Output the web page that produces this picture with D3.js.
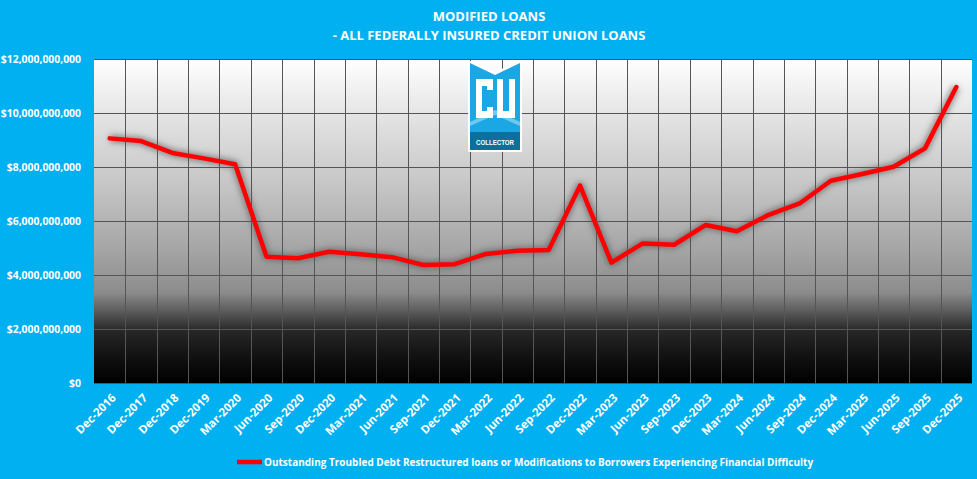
<!DOCTYPE html>
<html>
<head>
<meta charset="utf-8" />
<title>Modified Loans</title>
<script src="https://cdnjs.cloudflare.com/ajax/libs/d3/7.8.5/d3.min.js"></script>
<style>
  html, body { margin: 0; padding: 0; background: #00b0f0; }
  svg { display: block; }
  text { font-family: "Open Sans", sans-serif; font-weight: 700; fill: #fff; }
</style>
</head>
<body>
<svg id="chart" width="977" height="479"></svg>
<script>
// quarters shown on the category axis
var categories = ["Dec-2016","Dec-2017","Dec-2018","Dec-2019","Mar-2020","Jun-2020","Sep-2020","Dec-2020",
  "Mar-2021","Jun-2021","Sep-2021","Dec-2021","Mar-2022","Jun-2022","Sep-2022","Dec-2022",
  "Mar-2023","Jun-2023","Sep-2023","Dec-2023","Mar-2024","Jun-2024","Sep-2024","Dec-2024",
  "Mar-2025","Jun-2025","Sep-2025","Dec-2025"];

// outstanding TDR loans / modifications, dollars
var modifiedLoans = [9.06e9, 8.96e9, 8.52e9, 8.32e9, 8.10e9, 4.68e9, 4.62e9, 4.86e9,
  4.77e9, 4.66e9, 4.37e9, 4.40e9, 4.78e9, 4.90e9, 4.93e9, 7.31e9,
  4.46e9, 5.17e9, 5.12e9, 5.85e9, 5.62e9, 6.22e9, 6.65e9, 7.49e9,
  7.74e9, 8.01e9, 8.69e9, 10.96e9];

var yTicks = [0, 2e9, 4e9, 6e9, 8e9, 10e9, 12e9];

var titleLines = ["MODIFIED LOANS", "- ALL FEDERALLY INSURED CREDIT UNION LOANS"];
var legendLabel = "Outstanding Troubled Debt Restructured loans or Modifications to Borrowers Experiencing Financial Difficulty";

var svg = d3.select("#chart");
var W = 977, H = 479;
var plot = {left: 94, right: 972, top: 59, bottom: 383};

svg.append("rect").attr("width", W).attr("height", H).attr("fill", "#00b0f0");

var defs = svg.append("defs");
var grad = defs.append("linearGradient").attr("id", "bg").attr("x1", 0).attr("y1", 0).attr("x2", 0).attr("y2", 1);
[[0, "#ffffff"], [0.2, "#e0e0e0"], [0.4, "#c4c4c4"], [0.6, "#a3a3a3"], [0.72, "#8c8c8c"],
 [0.78, "#5a5a5a"], [0.84, "#262626"], [0.92, "#111111"], [1, "#000000"]].forEach(function(s) {
  grad.append("stop").attr("offset", s[0]).attr("stop-color", s[1]);
});
var blur = defs.append("filter").attr("id", "glow").attr("x", "-10%").attr("y", "-10%").attr("width", "120%").attr("height", "120%");
blur.append("feGaussianBlur").attr("stdDeviation", 3);

var x = d3.scaleBand().domain(categories).range([plot.left, plot.right]);
var y = d3.scaleLinear().domain([0, 12e9]).range([plot.bottom, plot.top]);

svg.append("rect")
  .attr("x", plot.left).attr("y", plot.top)
  .attr("width", plot.right - plot.left).attr("height", plot.bottom - plot.top)
  .attr("fill", "url(#bg)");

// gridlines
svg.append("g").selectAll("line").data(yTicks).join("line")
  .attr("x1", plot.left).attr("x2", plot.right)
  .attr("y1", function(d) { return Math.round(y(d)) + 0.5; })
  .attr("y2", function(d) { return Math.round(y(d)) + 0.5; })
  .attr("stroke", "#555").attr("stroke-width", 1);
svg.append("g").selectAll("line").data(categories.slice(1)).join("line")
  .attr("x1", function(d) { return Math.round(x(d)) + 0.5; })
  .attr("x2", function(d) { return Math.round(x(d)) + 0.5; })
  .attr("y1", plot.top).attr("y2", plot.bottom)
  .attr("stroke", "#555").attr("stroke-width", 1);

// axes
var yAxis = svg.append("g").attr("transform", "translate(" + (plot.left - 10) + ",0)")
  .call(d3.axisLeft(y).tickValues(yTicks).tickFormat(d3.format("$,.0f")).tickSize(0));
yAxis.select(".domain").remove();
yAxis.selectAll("text").attr("fill", "#fff").style("font-size", "10.4px").attr("dy", "0.32em");

var xAxis = svg.append("g").attr("transform", "translate(0," + (plot.bottom + 7) + ")")
  .call(d3.axisBottom(x).tickSize(0));
xAxis.select(".domain").remove();
xAxis.selectAll("text")
  .attr("fill", "#fff").style("font-size", "11.5px")
  .attr("text-anchor", "end")
  .attr("transform", "rotate(-45)")
  .attr("dx", "-0.1em").attr("dy", "0.7em");

// series
var line = d3.line()
  .x(function(d, i) { return x(categories[i]) + x.bandwidth() / 2; })
  .y(function(d) { return y(d); });

svg.append("path").datum(modifiedLoans)
  .attr("d", line).attr("fill", "none")
  .attr("stroke", "#555").attr("stroke-opacity", 0.7).attr("stroke-width", 7)
  .attr("stroke-linejoin", "round").attr("filter", "url(#glow)");
svg.append("path").datum(modifiedLoans)
  .attr("d", line).attr("fill", "none")
  .attr("stroke", "#ff0000").attr("stroke-width", 4.5)
  .attr("stroke-linejoin", "round").attr("stroke-linecap", "round");

// logo
var logo = svg.append("g").attr("transform", "translate(468,60)");
logo.append("path").attr("d", "M0,0 L27,12 L54,0 L54,92 L0,92 Z").attr("fill", "#ffffff");
logo.append("path").attr("d", "M2,3 L27,15 L52,3 L52,90 L2,90 Z").attr("fill", "#1aa7e3");
logo.append("path").attr("d", "M2,62 L27,50 L52,62 L52,72 L2,72 Z").attr("fill", "#6fc8ee");
logo.append("path").attr("d", "M2,66 L27,55 L52,66 L52,72 L2,72 Z").attr("fill", "#1aa7e3");
logo.append("rect").attr("x", 2).attr("y", 72).attr("width", 50).attr("height", 18).attr("fill", "#0d6f9e");
logo.append("path")
  .attr("d", "M8,19 L25,19 L25,30 L19,30 L19,26 L14,26 L14,51 L19,51 L19,47 L25,47 L25,58 L8,58 Z")
  .attr("fill", "#ffffff");
logo.append("path")
  .attr("d", "M29,19 L35,19 L35,51 L41,51 L41,19 L47,19 L47,58 L29,58 Z")
  .attr("fill", "#ffffff");
logo.append("text").attr("x", 27).attr("y", 85).attr("text-anchor", "middle")
  .style("font-family", "'Liberation Sans Narrow', sans-serif").style("font-size", "8px")
  .attr("textLength", 38).attr("lengthAdjust", "spacingAndGlyphs")
  .text("COLLECTOR");

// title
svg.append("g").selectAll("text").data(titleLines).join("text")
  .attr("x", 489).attr("y", function(d, i) { return 21 + i * 19; })
  .attr("text-anchor", "middle").style("font-size", "13px")
  .text(function(d) { return d; });

// legend
svg.append("line").attr("x1", 237).attr("x2", 262).attr("y1", 462).attr("y2", 462)
  .attr("stroke", "#ff0000").attr("stroke-width", 4.5);
svg.append("text").attr("x", 264).attr("y", 466).style("font-size", "10px").text(legendLabel);
</script>
</body>
</html>
